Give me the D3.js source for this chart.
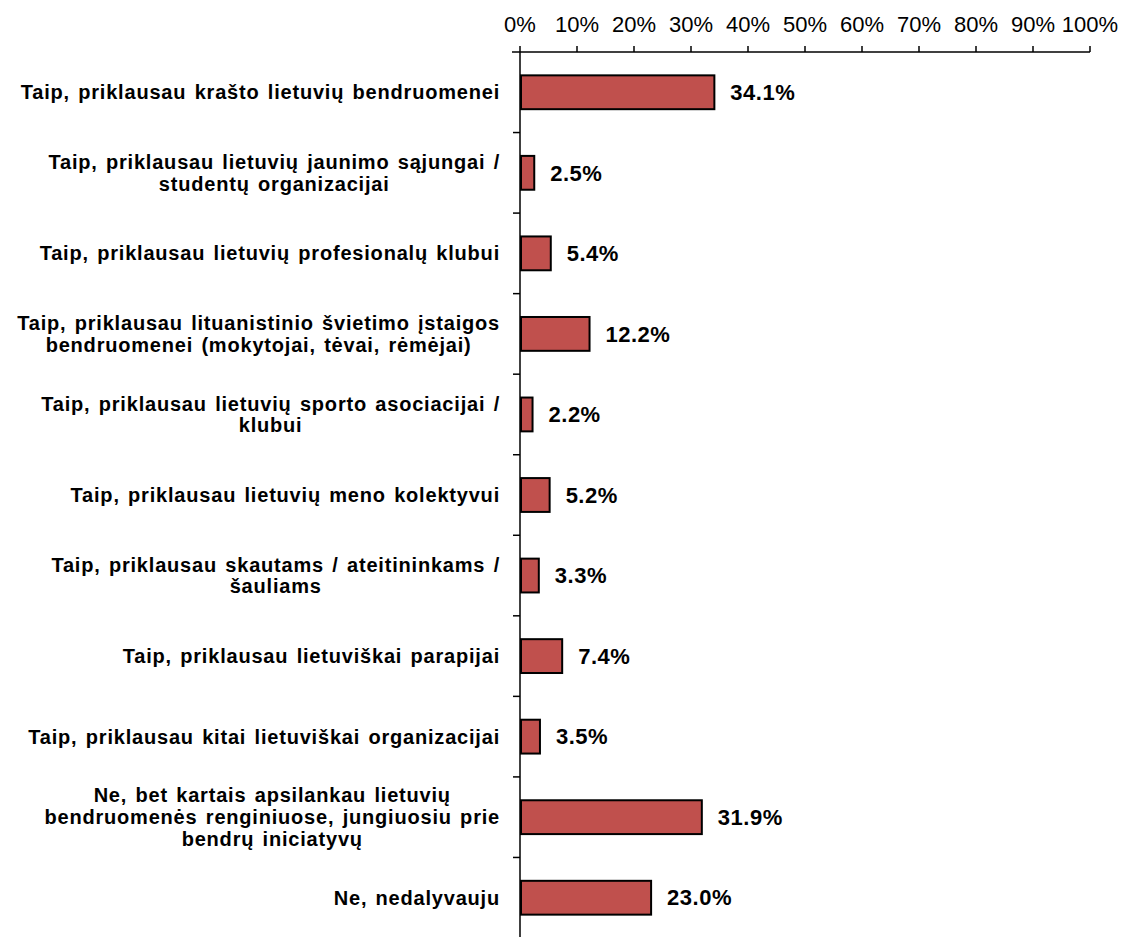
<!DOCTYPE html>
<html>
<head>
<meta charset="utf-8">
<script src="https://cdn.jsdelivr.net/npm/d3@7"></script>
<style>
  body { margin: 0; background: #fff; }
  text { font-family: Arial, "Liberation Sans", sans-serif; }
</style>
</head>
<body>
<div class="chart"></div>
<script>
const categories = [
    ["Taip, priklausau krašto lietuvių bendruomenei"],
    ["Taip, priklausau lietuvių jaunimo sąjungai /", "studentų organizacijai"],
    ["Taip, priklausau lietuvių profesionalų klubui"],
    ["Taip, priklausau lituanistinio švietimo įstaigos", "bendruomenei (mokytojai, tėvai, rėmėjai)"],
    ["Taip, priklausau lietuvių sporto asociacijai /", "klubui"],
    ["Taip, priklausau lietuvių meno kolektyvui"],
    ["Taip, priklausau skautams / ateitininkams /", "šauliams"],
    ["Taip, priklausau lietuviškai parapijai"],
    ["Taip, priklausau kitai lietuviškai organizacijai"],
    ["Ne, bet kartais apsilankau lietuvių", "bendruomenės renginiuose, jungiuosiu prie", "bendrų iniciatyvų"],
    ["Ne, nedalyvauju"]
];
const values = [34.1, 2.5, 5.4, 12.2, 2.2, 5.2, 3.3, 7.4, 3.5, 31.9, 23.0];
const xTicks = [0, 10, 20, 30, 40, 50, 60, 70, 80, 90, 100];

const margin = {top: 52, right: 36, bottom: 0, left: 520},
      width = 1126 - margin.left - margin.right,
      height = 938 - margin.top - margin.bottom;

const svg = d3.select(".chart").append("svg")
    .attr("width", 1126)
    .attr("height", 937)
    .append("g")
    .attr("transform", "translate(" + margin.left + "," + margin.top + ")");

const x = d3.scaleLinear()
    .domain([0, 100])
    .range([0, width]);

const y = d3.scaleBand()
    .domain(d3.range(categories.length))
    .range([0, height])
    .paddingInner(0.58)
    .paddingOuter(0.29);

// category boundaries for the y ticks
const yb = d3.scaleLinear()
    .domain([0, categories.length])
    .range([0, height]);

// top axis
const xAxis = svg.append("g")
    .attr("class", "x axis");
xAxis.append("line")
    .attr("x1", -8).attr("x2", x(100))
    .attr("y1", 0).attr("y2", 0)
    .style("stroke", "#000").style("stroke-width", 1.5);
xAxis.selectAll("line.tick")
    .data(xTicks)
    .enter().append("line")
    .attr("class", "tick")
    .attr("x1", d => x(d)).attr("x2", d => x(d))
    .attr("y1", 0).attr("y2", -6)
    .style("stroke", "#000").style("stroke-width", 1.5);
xAxis.selectAll("text")
    .data(xTicks)
    .enter().append("text")
    .attr("x", d => x(d))
    .attr("y", -28)
    .attr("dy", "0.35em")
    .style("text-anchor", "middle")
    .style("font-size", "22px")
    .style("fill", "#000")
    .text(d => d + "%");

// left axis
const yAxis = svg.append("g")
    .attr("class", "y axis");
yAxis.append("line")
    .attr("x1", 0).attr("x2", 0)
    .attr("y1", 0).attr("y2", height)
    .style("stroke", "#000").style("stroke-width", 1.5);
yAxis.selectAll("line.tick")
    .data(d3.range(1, categories.length))
    .enter().append("line")
    .attr("class", "tick")
    .attr("x1", -7).attr("x2", 0)
    .attr("y1", d => yb(d)).attr("y2", d => yb(d))
    .style("stroke", "#000").style("stroke-width", 1.5);

// bars
svg.append("g")
    .attr("class", "bars")
    .selectAll("rect")
    .data(values)
    .enter().append("rect")
    .attr("x", x(0) + 1)
    .attr("y", (d, i) => y(i))
    .attr("width", d => x(d) - x(0) - 1)
    .attr("height", y.bandwidth())
    .style("fill", "#C0504D")
    .style("stroke", "#000")
    .style("stroke-width", 2);

// value labels
svg.append("g")
    .attr("class", "values")
    .selectAll("text")
    .data(values)
    .enter().append("text")
    .attr("x", d => x(d) + 16)
    .attr("y", (d, i) => y(i) + y.bandwidth() / 2)
    .attr("dy", "0.35em")
    .style("font-size", "22px")
    .style("font-weight", "bold")
    .style("letter-spacing", "0.5px")
    .style("fill", "#000")
    .text(d => d.toFixed(1) + "%");

// category labels, centred block aligned to the right
const lineH = 21.7;
const labels = svg.append("g")
    .attr("class", "labels")
    .selectAll("text")
    .data(categories)
    .enter().append("text")
    .style("font-size", "20px")
    .style("font-weight", "bold")
    .style("letter-spacing", "0.8px")
    .style("word-spacing", "2px")
    .style("fill", "#000")
    .style("text-anchor", "middle");

labels.each(function(lines, i) {
    const t = d3.select(this);
    const cy = y(i) + y.bandwidth() / 2;
    const y0 = cy - (lines.length - 1) * lineH / 2;
    lines.forEach((l, j) => {
        t.append("tspan")
            .attr("y", y0 + j * lineH)
            .attr("dy", "0.35em")
            .text(l);
    });
    const w = d3.max(t.selectAll("tspan").nodes(), n => n.getComputedTextLength());
    t.selectAll("tspan").attr("x", -20 - w / 2);
});
</script>
</body>
</html>
